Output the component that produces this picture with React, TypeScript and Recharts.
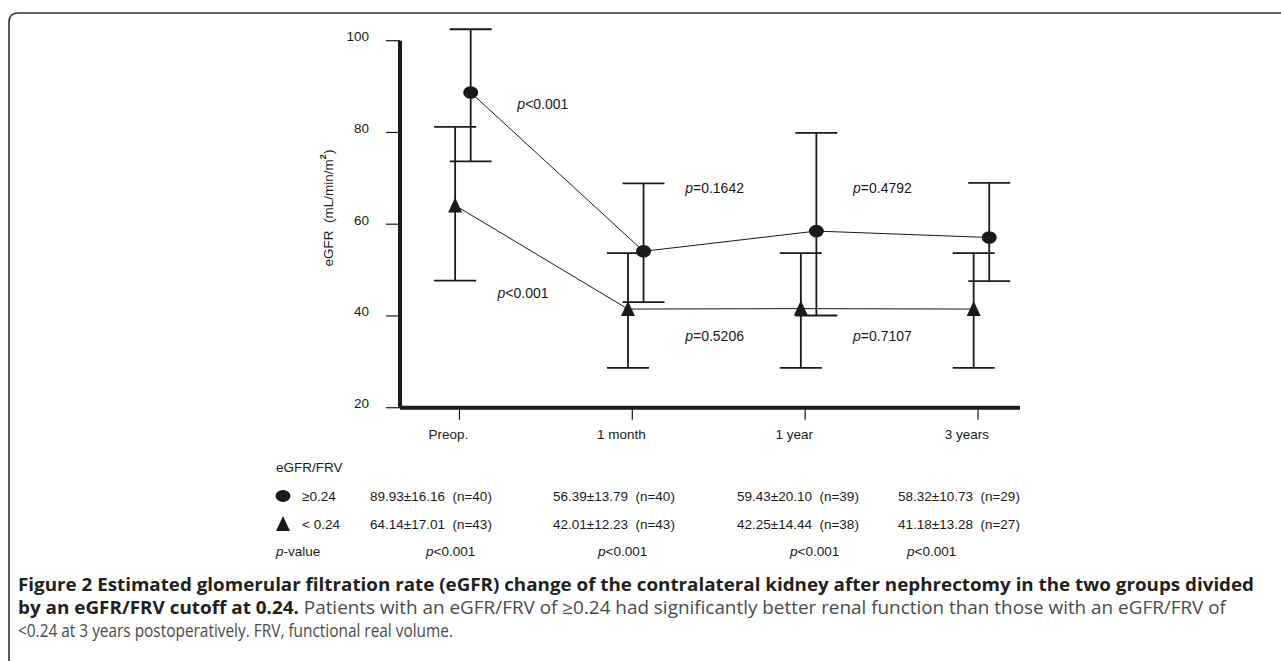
import React from 'react';
import {
  ComposedChart,
  Scatter,
  XAxis,
  YAxis,
  ErrorBar,
  ReferenceDot,
  ReferenceLine
} from 'recharts';

const timepoints = ['Preop.', '1 month', '1 year', '3 years'];

// eGFR/FRV >= 0.24 (circles): plotted mean and whisker ends
const highMean = [88.7, 54.1, 58.5, 57.1];
const highUpper = [102.5, 68.9, 79.9, 69.0];
const highLower = [73.7, 43.0, 40.1, 47.6];

// eGFR/FRV < 0.24 (triangles)
const lowMean = [64.1, 41.5, 41.6, 41.5];
const lowUpper = [81.2, 53.7, 53.7, 53.7];
const lowLower = [47.7, 28.7, 28.7, 28.7];

const yTicks = [20, 40, 60, 80, 100];

// p values between neighbouring timepoints, anchored in data units
const intervalP = ['<0.001', '<0.001', '=0.1642', '=0.5206', '=0.4792', '=0.7107'];
const intervalAt = [
  [0.335, 86.2],
  [0.22, 44.9],
  [1.306, 67.8],
  [1.306, 35.7],
  [2.277, 67.8],
  [2.277, 35.7]
];

// table under the plot
const highStats = ['89.93±16.16  (n=40)', '56.39±13.79  (n=40)', '59.43±20.10  (n=39)', '58.32±10.73  (n=29)'];
const lowStats = ['64.14±17.01  (n=43)', '42.01±12.23  (n=43)', '42.25±14.44  (n=38)', '41.18±13.28  (n=27)'];
const groupP = ['<0.001', '<0.001', '<0.001', '<0.001'];

const INK = '#1a1a1a';
const FONT = '"Liberation Sans", Arial, sans-serif';
const DODGE_HIGH = 0.065;
const DODGE_LOW = -0.025;

const highData = timepoints.map((_, i) => ({
  x: i + DODGE_HIGH,
  y: highMean[i],
  err: [highMean[i] - highLower[i], highUpper[i] - highMean[i]]
}));
const lowData = timepoints.map((_, i) => ({
  x: i + DODGE_LOW,
  y: lowMean[i],
  err: [lowMean[i] - lowLower[i], lowUpper[i] - lowMean[i]]
}));

const Dot = (p: any) => <ellipse cx={p.cx} cy={p.cy} rx={7.5} ry={6.3} fill={INK} />;
const Tri = (p: any) => (
  <path d={`M${p.cx},${p.cy - 8} L${p.cx + 7},${p.cy + 7} L${p.cx - 7},${p.cy + 7} Z`} fill={INK} />
);

const XTick = (p: any) => (
  <text x={p.x - 11} y={p.y} dy="0.71em" textAnchor="middle" fontFamily={FONT} fontSize={13.5} fill={INK}>
    {timepoints[p.payload.value]}
  </text>
);
const YTick = (p: any) => (
  <text x={p.x} y={p.y - 4} dominantBaseline="central" textAnchor="end" fontFamily={FONT} fontSize={13.5} fill={INK}>
    {p.payload.value}
  </text>
);

const PNote = ({ cx, cy, text }: any) => (
  <text x={cx} y={cy} dominantBaseline="central" fontFamily={FONT} fontSize={14} fill={INK}>
    <tspan fontStyle="italic">p</tspan>
    <tspan>{text}</tspan>
  </text>
);

const colX = [370, 553, 737, 898];
const pColX = [426, 598, 790, 907];
const rowY = { head: 467, high: 496, low: 524, p: 551 };
const capY = [584, 607, 630];

export default function App() {
  return (
    <div style={{ position: 'absolute', left: 0, top: 0, width: 1281, height: 661, background: '#fff' }}>
      <ComposedChart
        width={1281}
        height={661}
        margin={{ top: 22.35, right: 261, left: 340, bottom: 213.3 }}
      >
        <XAxis
          type="number"
          dataKey="x"
          domain={[-0.344, 3.243]}
          ticks={[0, 1, 2, 3]}
          height={40}
          axisLine={{ stroke: INK, strokeWidth: 4 }}
          tickLine={{ stroke: INK, strokeWidth: 1.2 }}
          tickSize={12}
          tickMargin={10}
          tick={<XTick />}
        />
        <YAxis
          type="number"
          dataKey="y"
          domain={[20, 104]}
          ticks={yTicks}
          width={60}
          axisLine={false}
          tickLine={{ stroke: INK, strokeWidth: 1.2 }}
          tickSize={14}
          tickMargin={17}
          tick={<YTick />}
        />
        <ReferenceLine
          segment={[{ x: -0.344, y: 20 }, { x: -0.344, y: 100 }]}
          stroke={INK}
          strokeWidth={4}
        />
        <Scatter
          data={lowData}
          shape={Tri}
          line={{ stroke: INK, strokeWidth: 1 }}
          isAnimationActive={false}
        >
          <ErrorBar dataKey="err" direction="y" width={21} stroke={INK} strokeWidth={1.8} isAnimationActive={false} />
        </Scatter>
        <Scatter
          data={highData}
          shape={Dot}
          line={{ stroke: INK, strokeWidth: 1 }}
          isAnimationActive={false}
        >
          <ErrorBar dataKey="err" direction="y" width={21} stroke={INK} strokeWidth={1.8} isAnimationActive={false} />
        </Scatter>
        {intervalAt.map(([x, y], i) => (
          <ReferenceDot
            key={i}
            x={x}
            y={y}
            r={0}
            shape={(p: any) => <PNote cx={p.cx} cy={p.cy} text={intervalP[i]} />}
          />
        ))}
      </ComposedChart>

      <svg
        width={1281}
        height={661}
        style={{ position: 'absolute', left: 0, top: 0, pointerEvents: 'none' }}
      >
        <path
          d="M9,680 L9,22 Q9,13 18,13 L1300,13"
          fill="none"
          stroke="#333"
          strokeWidth={1.6}
        />

        <text
          transform="translate(328,208) rotate(-90)"
          textAnchor="middle"
          dominantBaseline="central"
          fontFamily={FONT}
          fontSize={13.5}
          fill={INK}
          xmlSpace="preserve"
        >
          {'eGFR  (mL/min/m'}
          <tspan fontSize={9} dy={-5} fontWeight="bold">2</tspan>
          <tspan dy={5}>)</tspan>
        </text>

        <g fontFamily={FONT} fontSize={13.5} fill={INK}>
          <text x={276} y={rowY.head} dominantBaseline="central">eGFR/FRV</text>

          <ellipse cx={283} cy={rowY.high} rx={7.5} ry={6} fill={INK} />
          <text x={302} y={rowY.high} dominantBaseline="central">≥0.24</text>
          {highStats.map((s, i) => (
            <text key={s} x={colX[i]} y={rowY.high} dominantBaseline="central" xmlSpace="preserve">{s}</text>
          ))}

          <path
            d={`M283,${rowY.low - 8} L290,${rowY.low + 7} L276,${rowY.low + 7} Z`}
            fill={INK}
          />
          <text x={302} y={rowY.low} dominantBaseline="central" xmlSpace="preserve">{'< 0.24'}</text>
          {lowStats.map((s, i) => (
            <text key={s} x={colX[i]} y={rowY.low} dominantBaseline="central" xmlSpace="preserve">{s}</text>
          ))}

          <text x={276} y={rowY.p} dominantBaseline="central">
            <tspan fontStyle="italic">p</tspan>-value
          </text>
          {groupP.map((s, i) => (
            <text key={i} x={pColX[i]} y={rowY.p} dominantBaseline="central">
              <tspan fontStyle="italic">p</tspan>
              {s}
            </text>
          ))}
        </g>

        <g fontFamily='"Open Sans", sans-serif' fontSize={17.5}>
          <text x={18} y={capY[0]} dominantBaseline="central" fontWeight="bold" fill="#231f20" textLength={1236} lengthAdjust="spacingAndGlyphs">
            Figure 2 Estimated glomerular filtration rate (eGFR) change of the contralateral kidney after nephrectomy in the two groups divided
          </text>
          <text x={18} y={capY[1]} dominantBaseline="central" fill="#4a4a4a" textLength={1208} lengthAdjust="spacingAndGlyphs">
            <tspan fontWeight="bold" fill="#231f20">by an eGFR/FRV cutoff at 0.24.</tspan> Patients with an eGFR/FRV of ≥0.24 had significantly better renal function than those with an eGFR/FRV of
          </text>
          <text x={18} y={capY[2]} dominantBaseline="central" fill="#4a4a4a" textLength={435} lengthAdjust="spacingAndGlyphs">
            {'<0.24 at 3 years postoperatively. FRV, functional real volume.'}
          </text>
        </g>
      </svg>
    </div>
  );
}
